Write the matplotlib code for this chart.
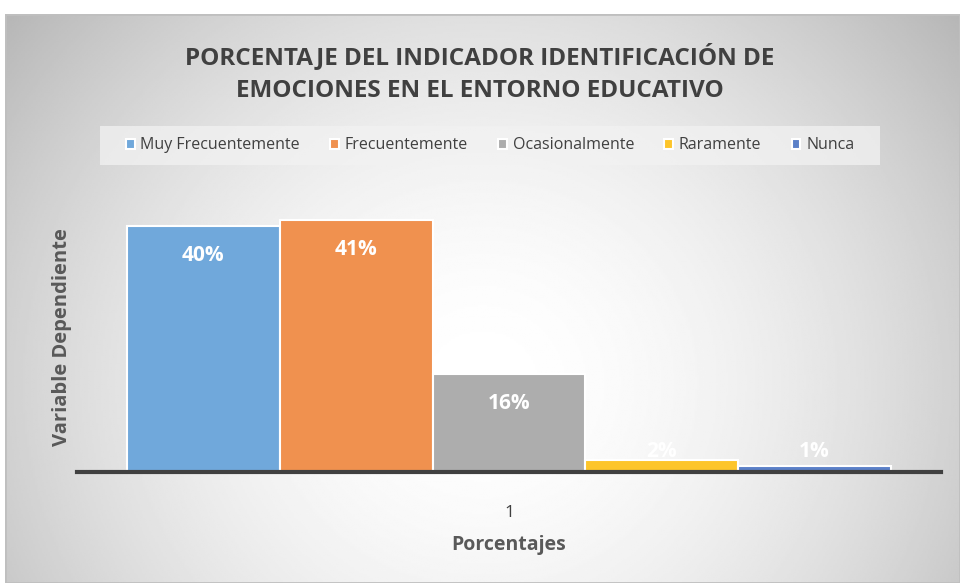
import numpy as np
import matplotlib.pyplot as plt
from matplotlib.patches import Rectangle

# data
series = ["Muy Frecuentemente", "Frecuentemente", "Ocasionalmente", "Raramente", "Nunca"]
values = [40, 41, 16, 2, 1]
colors = ["#70A8DB", "#F0914F", "#ADADAD", "#FDC52A", "#5B80C8"]
tick_labels = ["1"]

title = "PORCENTAJE DEL INDICADOR IDENTIFICACIÓN DE\nEMOCIONES EN EL ENTORNO EDUCATIVO"

plt.rcParams["font.family"] = ["Open Sans", "DejaVu Sans"]
W, H = 960, 583
fig = plt.figure(figsize=(W / 100, H / 100), dpi=100)
fig.patch.set_facecolor("white")

# radial gray background of the chart area
bg = fig.add_axes([5 / W, 0, 1 - 5 / W, (H - 14) / H])
yy, xx = np.mgrid[0:1:300j, 0:1:500j]
r = np.sqrt(((xx - 0.5) / 0.6) ** 2 + ((yy - 0.35) / 0.95) ** 2)
shade = 1.0 - 0.25 * np.clip(r, 0, 1.2) ** 1.8
bg.imshow(shade, cmap="gray", vmin=0, vmax=1, extent=[0, 1, 0, 1],
          aspect="auto", origin="lower")
bg.add_patch(Rectangle((0, 0), 1, 1, fill=False, edgecolor="#BFBFBF",
                       linewidth=2, transform=bg.transAxes))
bg.set_axis_off()

ax = fig.add_axes([77 / W, (H - 472) / H, (941 - 77) / W, (472 - 195) / H])
ax.patch.set_alpha(0)
x = np.arange(len(values))
bars = ax.bar(x, values, width=1.0, color=colors, edgecolor="white",
              linewidth=1.5, label=series, zorder=2)
for xi, v in zip(x, values):
    # inside end; small bars push the label above the bar
    ax.text(xi, max(v - 4.8, 3.3), f"{v}%", ha="center", va="center",
            color="white", fontsize=15, fontweight="bold", zorder=3)

ax.set_xlim(-0.827, 4.827)
ax.set_ylim(0, 45)
ax.set_yticks([])
ax.set_xticks([2])
ax.set_xticklabels(tick_labels, fontsize=12.5, color="#404040")
ax.tick_params(axis="x", length=0, pad=24)
for s in ["top", "right", "left"]:
    ax.spines[s].set_visible(False)
ax.spines["bottom"].set_color("#404040")
ax.spines["bottom"].set_linewidth(3)
ax.spines["bottom"].set_zorder(4)

ax.set_xlabel("Porcentajes", fontsize=14, fontweight="bold", color="#595959",
              labelpad=10)
fig.text(62 / W, 1 - 337 / H, "Variable Dependiente", rotation=90,
         ha="center", va="center", fontsize=14.5, fontweight="bold",
         color="#595959")

fig.text(0.5, 1 - 73 / H, title, ha="center", va="center", fontsize=17.5,
         fontweight="bold", color="#404040", linespacing=1.45)

# legend box
leg_ax = fig.add_axes([100 / W, 1 - 165 / H, 780 / W, 39 / H])
leg_ax.set_axis_off()
leg_ax.add_patch(Rectangle((0, 0), 1, 1, facecolor="#F2F2F2", alpha=0.75,
                           edgecolor="none", transform=leg_ax.transAxes))
leg = leg_ax.legend(bars, series, loc="center", ncol=5, frameon=False,
                    fontsize=11.5, handlelength=0.55, handleheight=0.55,
                    handletextpad=0.35, columnspacing=1.9,
                    labelcolor="#404040")

fig.savefig("out.png", dpi=100)
